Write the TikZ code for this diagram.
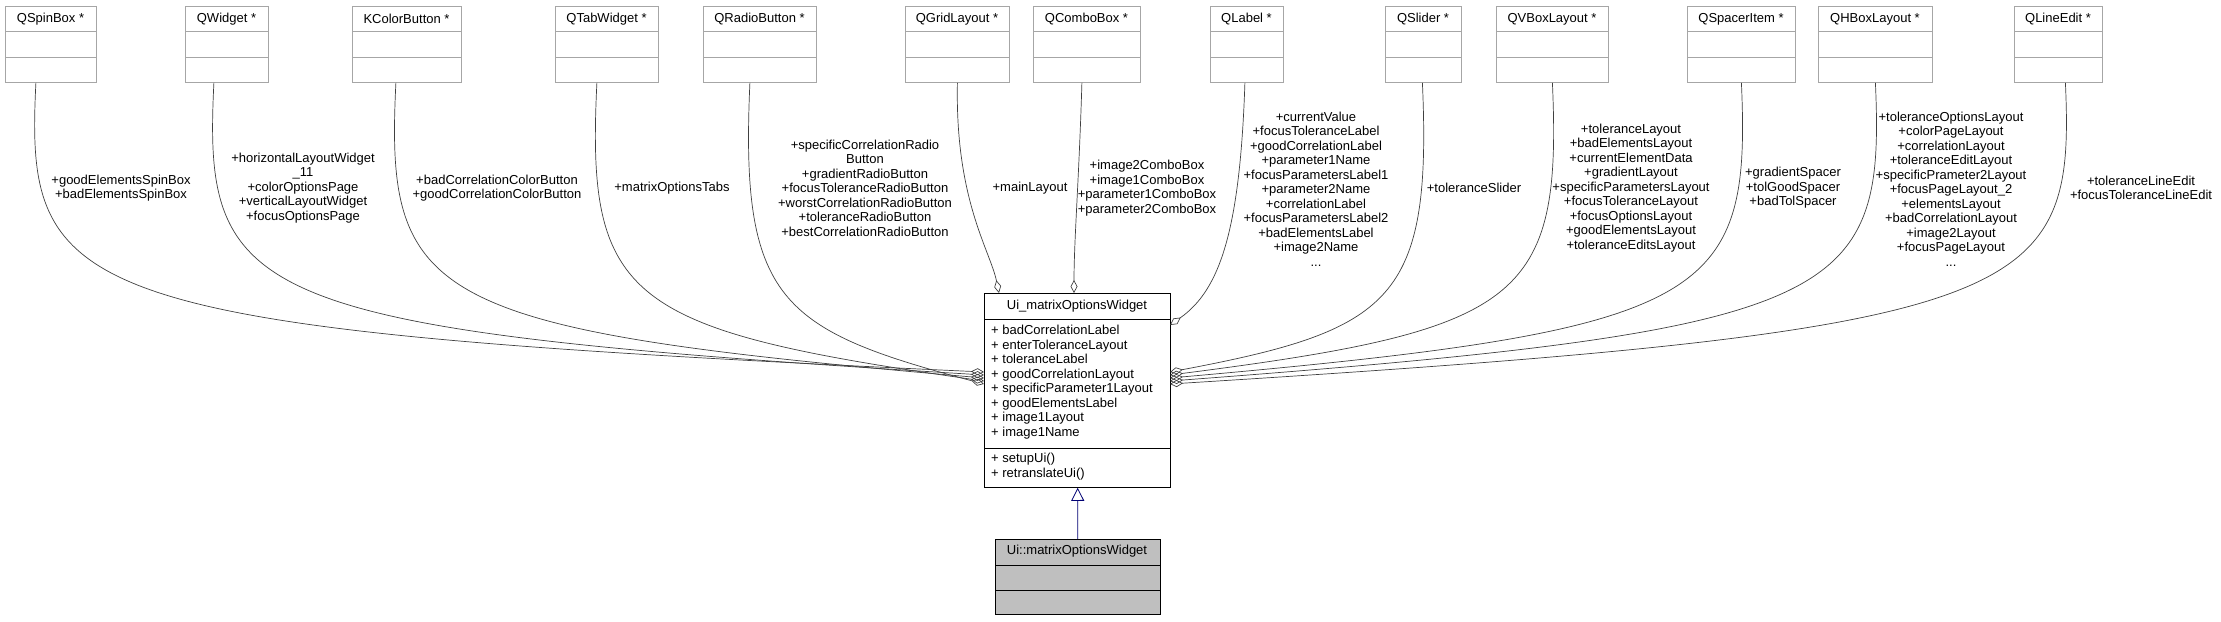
\documentclass[tikz,border=0pt]{standalone}
\usepackage{fontspec}
\setmainfont{Liberation Sans}
\usetikzlibrary{arrows.meta,calc}

\tikzset{
  topbox/.style={draw=black!35,line width=0.8pt,fill=white,inner sep=0pt},
  mainbox/.style={draw=black,line width=0.8pt,fill=white,inner sep=0pt},
  txt/.style={font=\fontsize{13}{14.5}\selectfont,inner sep=0pt,align=center},
  agg/.style={draw=black!75,line width=0.7pt,-{Diamond[open,length=13pt,width=7pt]}},
  inherit/.style={draw=blue!45!black,line width=0.8pt,-{Triangle[open,length=13pt,width=13pt]}}
}

% class box at the top: name, left x, right x, title
\newcommand{\topclass}[4]{%
  \node[topbox,anchor=north west,minimum width={(#3-#2)*1pt},minimum height=76pt] (#1) at (#2,6) {};
  \draw[black!35,line width=0.8pt] (#2,31) -- (#3,31) (#2,57) -- (#3,57);
  \node[txt] at ({(#2+#3)/2},19) {#4};
}

\begin{document}
\begin{tikzpicture}[x=1pt,y=-1pt]
  \useasboundingbox (0,0) rectangle (2221,621);

  \topclass{spin}{5}{96}{QSpinBox *}
  \topclass{widget}{185}{268}{QWidget *}
  \topclass{kcolor}{352}{461}{KColorButton *}
  \topclass{tab}{555}{658}{QTabWidget *}
  \topclass{radio}{703}{816}{QRadioButton *}
  \topclass{grid}{905}{1009}{QGridLayout *}
  \topclass{combo}{1033}{1140}{QComboBox *}
  \topclass{label}{1210}{1283}{QLabel *}
  \topclass{slider}{1385}{1461}{QSlider *}
  \topclass{vbox}{1496}{1608}{QVBoxLayout *}
  \topclass{spacer}{1687}{1795}{QSpacerItem *}
  \topclass{hbox}{1818}{1932}{QHBoxLayout *}
  \topclass{lineedit}{2014}{2102}{QLineEdit *}

  % main class
  \node[mainbox,anchor=north west,minimum width=186pt,minimum height=194pt] (main) at (984,293) {};
  \draw[line width=0.8pt] (984,319) -- (1170,319) (984,448) -- (1170,448);
  \node[txt] at (1077,306) {Ui\_matrixOptionsWidget};
  \node[txt,align=left,anchor=north west] at (991,325) {+ badCorrelationLabel\\+ enterToleranceLayout\\+ toleranceLabel\\+ goodCorrelationLayout\\+ specificParameter1Layout\\+ goodElementsLabel\\+ image1Layout\\+ image1Name};
  \node[txt,align=left,anchor=north west] at (991,453) {+ setupUi()\\+ retranslateUi()};

  % derived class
  \node[mainbox,fill=black!25,anchor=north west,minimum width=165pt,minimum height=75pt] (ui) at (995,539) {};
  \draw[line width=0.8pt] (995,565) -- (1160,565) (995,590) -- (1160,590);
  \node[txt] at (1077,551) {Ui::matrixOptionsWidget};
  \draw[inherit] (ui) -- (main);

  % members on the left
  \draw[agg] ([xshift=-15pt]spin.south) .. controls (25,300) and (65,330) .. (984,372);
  \draw[agg] ([xshift=-13pt]widget.south) .. controls (203,300) and (243,330) .. (984,375);
  \draw[agg] ([xshift=-11pt]kcolor.south) .. controls (385,300) and (425,330) .. (984,378);
  \draw[agg] ([xshift=-10pt]tab.south) .. controls (586,300) and (626,330) .. (984,381);
  \draw[agg] ([xshift=-10pt]radio.south) .. controls (740,300) and (780,330) .. (984,384);
  \draw[agg] ([xshift=0pt]grid.south) .. controls (955,200) and (990,250) .. (999,293);
  \draw[agg] ([xshift=-5pt]combo.south) .. controls (1079,180) and (1074,240) .. (1074,293);
  \draw[agg] ([xshift=-2pt]label.south) .. controls (1240,230) and (1220,290) .. (1170,325);

  % members on the right
  \draw[agg] ([xshift=-1pt]slider.south) .. controls (1432,300) and (1392,330) .. (1170,372);
  \draw[agg] ([xshift=0pt]vbox.south) .. controls (1562,300) and (1522,330) .. (1170,375);
  \draw[agg] ([xshift=0pt]spacer.south) .. controls (1751,300) and (1711,330) .. (1170,378);
  \draw[agg] ([xshift=0pt]hbox.south) .. controls (1885,300) and (1845,330) .. (1170,381);
  \draw[agg] ([xshift=7pt]lineedit.south) .. controls (2075,300) and (2035,330) .. (1170,384);

  % member names
  \node[txt] (lspin) at (121,188) {+goodElementsSpinBox\\+badElementsSpinBox};
  \node[txt] (lwidget) at (303,188) {+horizontalLayoutWidget\\\_11\\+colorOptionsPage\\+verticalLayoutWidget\\+focusOptionsPage};
  \node[txt] (lkcolor) at (497,188) {+badCorrelationColorButton\\+goodCorrelationColorButton};
  \node[txt] (ltab) at (672,188) {+matrixOptionsTabs};
  \node[txt] (lradio) at (865,188) {+specificCorrelationRadio\\Button\\+gradientRadioButton\\+focusToleranceRadioButton\\+worstCorrelationRadioButton\\+toleranceRadioButton\\+bestCorrelationRadioButton};
  \node[txt] (lgrid) at (1030,188) {+mainLayout};
  \node[txt] (lcombo) at (1147,188) {+image2ComboBox\\+image1ComboBox\\+parameter1ComboBox\\+parameter2ComboBox};
  \node[txt] (llabel) at (1316,189) {+currentValue\\+focusToleranceLabel\\+goodCorrelationLabel\\+parameter1Name\\+focusParametersLabel1\\+parameter2Name\\+correlationLabel\\+focusParametersLabel2\\+badElementsLabel\\+image2Name\\...};
  \node[txt] (lslider) at (1474,188) {+toleranceSlider};
  \node[txt] (lvbox) at (1631,188) {+toleranceLayout\\+badElementsLayout\\+currentElementData\\+gradientLayout\\+specificParametersLayout\\+focusToleranceLayout\\+focusOptionsLayout\\+goodElementsLayout\\+toleranceEditsLayout};
  \node[txt] (lspacer) at (1793,188) {+gradientSpacer\\+tolGoodSpacer\\+badTolSpacer};
  \node[txt] (lhbox) at (1951,189) {+toleranceOptionsLayout\\+colorPageLayout\\+correlationLayout\\+toleranceEditLayout\\+specificPrameter2Layout\\+focusPageLayout\_2\\+elementsLayout\\+badCorrelationLayout\\+image2Layout\\+focusPageLayout\\...};
  \node[txt] (llineedit) at (2141,188) {+toleranceLineEdit\\+focusToleranceLineEdit};
\end{tikzpicture}
\end{document}
